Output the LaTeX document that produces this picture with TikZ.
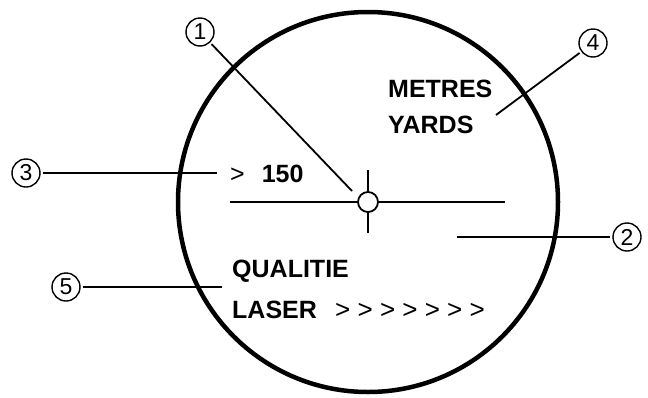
\documentclass[tikz,border=0pt]{standalone}
\usepackage{fontspec}
\setmainfont{Liberation Sans}
\usetikzlibrary{positioning}

\begin{document}
\begin{tikzpicture}[x=1pt, y=-1pt]
    \tikzstyle{numcircle}=[draw, circle, line width=1.4pt, minimum size=28pt, inner sep=0pt, font=\fontsize{23}{23}\selectfont]
    \tikzstyle{readout}=[anchor=base west, inner sep=0pt, font=\bfseries\fontsize{25}{25}\selectfont]
    \tikzstyle{leaderline}=[line width=1.8pt, shorten <=2pt]
    \tikzstyle{hair}=[line width=1.8pt]

    \useasboundingbox (0,0) rectangle (648,397);

    \node[draw, circle, line width=4.5pt, minimum size=380pt, inner sep=0pt] (lens) at (368,202) {};

    \node[draw, circle, line width=1.8pt, minimum size=20pt, inner sep=0pt] (reticle) at (368,202) {};
    \coordinate (hairL) at (230,202);
    \coordinate (hairR) at (505,202);
    \coordinate (hairT) at (368,170);
    \coordinate (hairB) at (368,233);
    \draw[hair] (hairL) -- (reticle.west);
    \draw[hair] (reticle.east) -- (hairR);
    \draw[hair] (hairT) -- (reticle.north);
    \draw[hair] (reticle.south) -- (hairB);

    \node[readout] (metres) at (388,97) {METRES};
    \node[readout] (yards) at (388,133) {YARDS};
    \node[readout] (range) at (230,182) {\mdseries >\hspace{17pt}\bfseries 150};
    \node[readout] (qualitie) at (232,277) {QUALITIE};
    \node[readout] (laser) at (232,318) {LASER};
    \node[readout, font=\fontsize{26}{26}\selectfont] (bars) at (335,318) {> > > > > > >};

    \node[numcircle] (c1) at (200,32) {1};
    \node[numcircle] (c2) at (627,237) {2};
    \node[numcircle] (c3) at (26,173) {3};
    \node[numcircle] (c4) at (593,43) {4};
    \node[numcircle] (c5) at (66,287) {5};

    \coordinate (t1) at (352,191);
    \coordinate (t2) at (457,237);
    \coordinate (t3) at (217,173);
    \coordinate (t4) at (496,115);
    \coordinate (t5) at (222,287);

    \draw[leaderline] (c1) -- (t1);
    \draw[leaderline] (c2) -- (t2);
    \draw[leaderline] (c3) -- (t3);
    \draw[leaderline] (c4) -- (t4);
    \draw[leaderline] (c5) -- (t5);
\end{tikzpicture}
\end{document}
